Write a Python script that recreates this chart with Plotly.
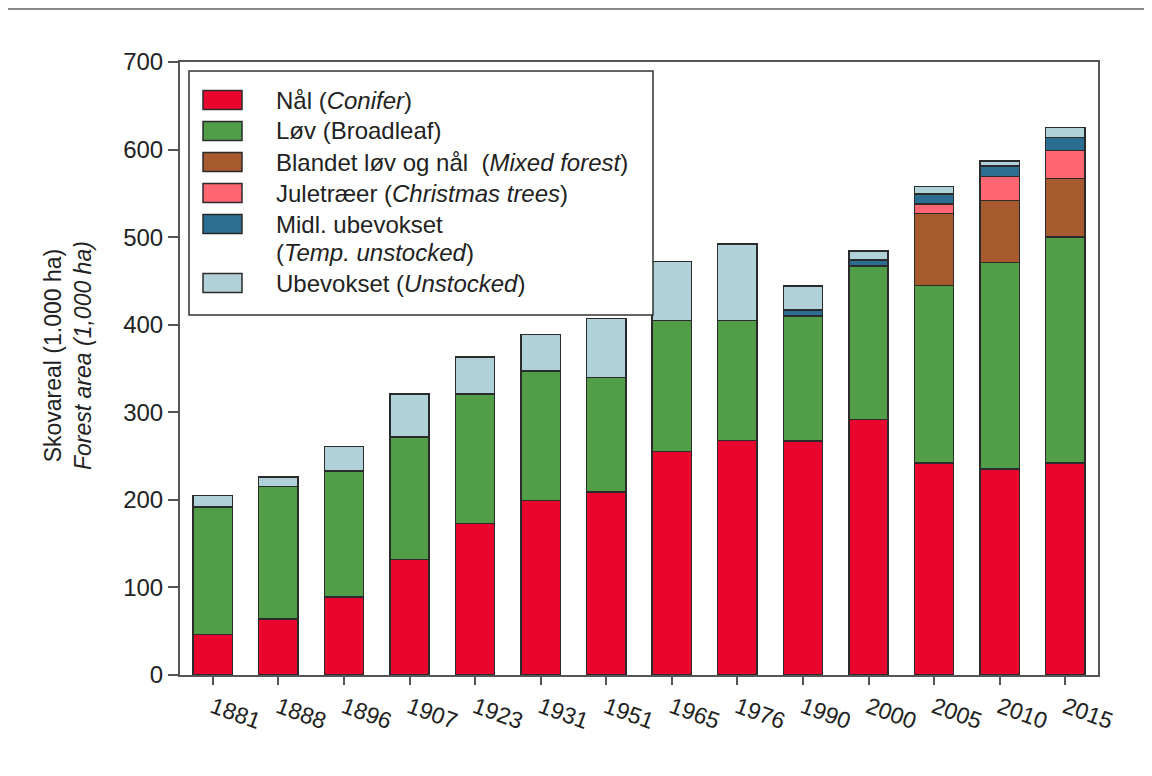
import plotly.graph_objects as go

years = ["1881", "1888", "1896", "1907", "1923", "1931", "1951", "1965",
         "1976", "1990", "2000", "2005", "2010", "2015"]

conifer = [46, 64, 89, 132, 173, 199, 209, 255, 268, 267, 292, 242, 235, 242]
broadleaf = [146, 151, 144, 140, 148, 148, 131, 150, 137, 143, 175, 203, 236, 258]
mixed = [None, None, None, None, None, None, None, None, None, None, None, 82, 71, 67]
christmas = [None, None, None, None, None, None, None, None, None, None, None, 11, 27, 32]
temp_unstocked = [None, None, None, None, None, None, None, None, None, 7, 7, 11, 12, 15]
unstocked = [13, 11, 28, 49, 42, 42, 67, 67, 87, 27, 10, 9, 6, 11]

series_names = [
    "Nål (<i>Conifer</i>)",
    "Løv (Broadleaf)",
    "Blandet løv og nål\u00a0\u00a0(<i>Mixed forest</i>)",
    "Juletræer (<i>Christmas trees</i>)",
    "Midl. ubevokset<br>(<i>Temp. unstocked</i>)",
    "Ubevokset (<i>Unstocked</i>)",
]
series_values = [conifer, broadleaf, mixed, christmas, temp_unstocked, unstocked]
series_colors = ["#E8062F", "#529E48", "#A65A2E", "#FF6672", "#2C6E91", "#B1D1D9"]

y_ticks = [0, 100, 200, 300, 400, 500, 600, 700]
y_title = "Skovareal (1.000 ha)<br><i>Forest area (1,000 ha)</i>"

FONT = "Liberation Sans, Arial, sans-serif"
AX = "#555555"
TXT = "#222222"

# figure geometry (page has an 8px body margin)
W, H = 1136, 760
L, R, T, B = 172, 46, 54, 93
PW, PH = W - L - R, H - T - B


def px(fx):
    return (fx - L) / PW


def py(fy):
    return (H - B - fy) / PH


fig = go.Figure()
for name, vals, col in zip(series_names, series_values, series_colors):
    fig.add_trace(go.Bar(
        x=years, y=vals, name=name, showlegend=False,
        marker=dict(color=col, line=dict(color="#2b2b2b", width=1.5)),
        width=0.6,
    ))

shapes = []
annotations = []

# page-wide rule at the top
shapes.append(dict(type="line", xref="paper", yref="paper",
                   x0=px(-8), x1=px(W + 8), y0=py(1), y1=py(1),
                   line=dict(color="#888888", width=2)))

# legend box
shapes.append(dict(type="rect", xref="paper", yref="paper",
                   x0=px(181), x1=px(645), y0=py(63), y1=py(307),
                   fillcolor="white", line=dict(color="#333333", width=1.5),
                   layer="above"))

# legend rows: swatch centre y and first text line centre y
row_y = [92, 123, 154, 185, 216, 275]
LINE_STEP = 29
for i, (name, col) in enumerate(zip(series_names, series_colors)):
    cy = row_y[i]
    shapes.append(dict(type="rect", xref="paper", yref="paper",
                       x0=px(195), x1=px(234), y0=py(cy - 9.5), y1=py(cy + 9.5),
                       fillcolor=col, line=dict(color="#2b2b2b", width=1.5),
                       layer="above"))
    for j, line in enumerate(name.split("<br>")):
        annotations.append(dict(xref="paper", yref="paper", x=px(266),
                                y=py(cy + j * LINE_STEP),
                                xanchor="left", yanchor="middle", align="left",
                                text=line, showarrow=False,
                                font=dict(family=FONT, size=24, color=TXT)))

# y-axis title
annotations.append(dict(xref="paper", yref="paper", x=px(60), y=py(348),
                        xanchor="center", yanchor="middle", textangle=-90,
                        text=y_title, showarrow=False, align="center",
                        font=dict(family=FONT, size=23, color=TXT)))

fig.update_layout(
    width=W, height=H,
    barmode="stack",
    paper_bgcolor="white", plot_bgcolor="white",
    margin=dict(l=L, r=R, t=T, b=B),
    font=dict(family=FONT, size=24, color=TXT),
    showlegend=False,
    xaxis=dict(
        type="category",
        range=[-0.5, 13.5],
        showline=True, mirror=True, linecolor=AX, linewidth=2,
        ticks="outside", ticklen=8, tickwidth=2, tickcolor=AX,
        tickangle=20,
        tickfont=dict(family=FONT, size=23, color=TXT),
        showgrid=False,
    ),
    yaxis=dict(
        range=[0, 700],
        tickvals=y_ticks,
        showline=True, mirror=True, linecolor=AX, linewidth=2,
        ticks="outside", ticklen=10, tickwidth=2, tickcolor=AX,
        tickfont=dict(family=FONT, size=24, color=TXT),
        showgrid=False, zeroline=False,
    ),
    shapes=shapes,
    annotations=annotations,
)

fig.write_html("out.html")
